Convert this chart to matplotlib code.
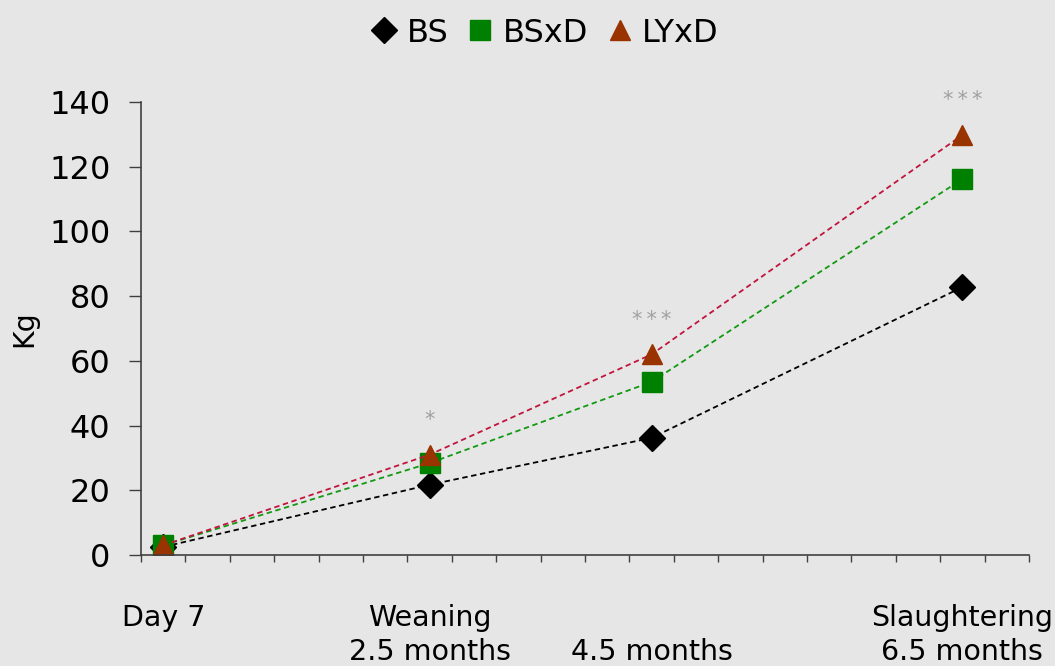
import matplotlib.pyplot as plt
import numpy as np

# weight (Kg) at each stage, three breed groups
stage_labels = ["Day 7", "Weaning\n2.5 months", "\n4.5 months", "Slaughtering\n6.5 months"]
stage_pos = [0, 6, 11, 18]          # category slots on a 20-slot axis
n_slots = 20
bs = [2.5, 21.7, 36.2, 82.8]
bsxd = [3, 28.4, 53.5, 116.2]
lyxd = [3, 31, 62, 129.8]
signif = ["", "*", "*\u2009*\u2009*", "*\u2009*\u2009*"]

bg = "#E6E6E6"
fig = plt.figure(figsize=(10.55, 6.66), dpi=100, facecolor=bg)
ax = fig.add_axes([141/1055, 1-555/666, (1029-141)/1055, (555-102)/666], facecolor=bg)

dash = (0, (3, 2))
ax.plot(stage_pos, bs, color="black", ls=dash, lw=1.3, marker="D", ms=13.5,
        mfc="black", mec="black", label="BS")
ax.plot(stage_pos, bsxd, color="#119911", ls=dash, lw=1.3, marker="s", ms=14,
        mfc="#008000", mec="#008000", label="BSxD")
ax.plot(stage_pos, lyxd, color="#C0143C", ls=dash, lw=1.3, marker="^", ms=14,
        mfc="#993300", mec="#993300", label="LYxD")

for x, y, s in zip(stage_pos, lyxd, signif):
    if s:
        ax.annotate(s, (x, y), xytext=(0, 25), textcoords="offset points",
                    ha="center", va="center", fontsize=15, color="#A0A0A0",
                    annotation_clip=False)

ax.set_xlim(-0.5, n_slots - 0.5)
ax.set_ylim(0, 140)
ax.set_yticks(np.arange(0, 141, 20))
ax.tick_params(axis="y", labelsize=23, length=9, width=1, color="#404040", pad=13)
ax.set_xticks(np.arange(-0.5, n_slots, 1))
ax.set_xticklabels([])
ax.tick_params(axis="x", which="major", length=5, width=1, color="#404040")
ax.set_xticks(stage_pos, minor=True)
ax.set_xticklabels(stage_labels, minor=True, fontsize=20.5, linespacing=1.3)
ax.tick_params(axis="x", which="minor", length=0, pad=35)

for side in ["top", "right"]:
    ax.spines[side].set_visible(False)
for side in ["left", "bottom"]:
    ax.spines[side].set_color("#404040")
    ax.spines[side].set_linewidth(1.2)

ax.set_ylabel("Kg", fontsize=20.5, labelpad=8)

fig.legend(loc="center", bbox_to_anchor=(545/1055, 1-33/666), ncol=3, frameon=False,
           fontsize=23, handlelength=0.8, handletextpad=0.3, columnspacing=0.6)
for line in fig.legends[0].get_lines():
    line.set_linestyle("none")

fig.savefig("out.png", dpi=100, facecolor=bg)
